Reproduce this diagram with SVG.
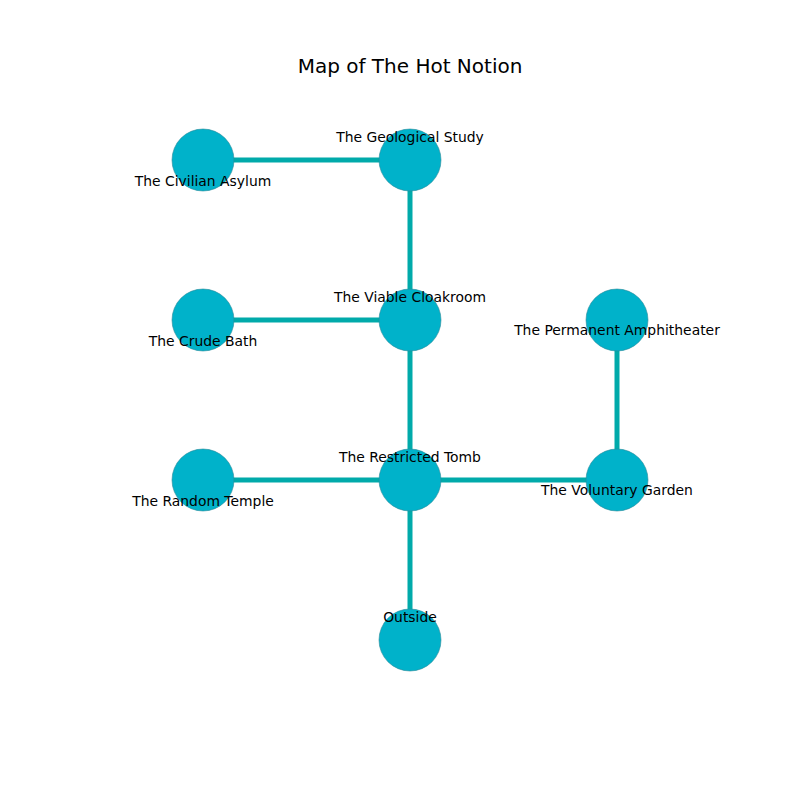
<svg xmlns="http://www.w3.org/2000/svg" width="800" height="800" viewBox="0 0 800 800">
<style>
.e{stroke:#00aaaa;stroke-width:5;fill:none}
.n{fill:#00b2ca;stroke:#2a8a99;stroke-width:0.6}
.t{font-family:"DejaVu Sans",sans-serif;font-size:13.9px;fill:#000;text-anchor:middle;dominant-baseline:central}
.title{font-family:"DejaVu Sans",sans-serif;font-size:20px;fill:#000;text-anchor:middle;dominant-baseline:central}
</style>
<rect width="800" height="800" fill="#fff"/>
<text class="title" x="410" y="66">Map of The Hot Notion</text>
<g id="connectors">
<line class="e" x1="203" y1="160" x2="410" y2="160"/>
<line class="e" x1="410" y1="160" x2="410" y2="320"/>
<line class="e" x1="203" y1="320" x2="410" y2="320"/>
<line class="e" x1="410" y1="320" x2="410" y2="480"/>
<line class="e" x1="203" y1="480" x2="410" y2="480"/>
<line class="e" x1="410" y1="480" x2="617" y2="480"/>
<line class="e" x1="617" y1="320" x2="617" y2="480"/>
<line class="e" x1="410" y1="480" x2="410" y2="640"/>
</g>
<g id="civilian-asylum"><circle class="n" cx="203" cy="160" r="31"/><text class="t" x="203" y="181">The Civilian Asylum</text></g>
<g id="geological-study"><circle class="n" cx="410" cy="160" r="31"/><text class="t" x="410" y="137">The Geological Study</text></g>
<g id="crude-bath"><circle class="n" cx="203" cy="320" r="31"/><text class="t" x="203" y="341">The Crude Bath</text></g>
<g id="viable-cloakroom"><circle class="n" cx="410" cy="320" r="31"/><text class="t" x="410" y="297">The Viable Cloakroom</text></g>
<g id="permanent-amphitheater"><circle class="n" cx="617" cy="320" r="31"/><text class="t" x="617" y="330">The Permanent Amphitheater</text></g>
<g id="random-temple"><circle class="n" cx="203" cy="480" r="31"/><text class="t" x="203" y="501">The Random Temple</text></g>
<g id="restricted-tomb"><circle class="n" cx="410" cy="480" r="31"/><text class="t" x="410" y="457">The Restricted Tomb</text></g>
<g id="voluntary-garden"><circle class="n" cx="617" cy="480" r="31"/><text class="t" x="617" y="490">The Voluntary Garden</text></g>
<g id="outside"><circle class="n" cx="410" cy="640" r="31"/><text class="t" x="410" y="617">Outside</text></g>
</svg>
